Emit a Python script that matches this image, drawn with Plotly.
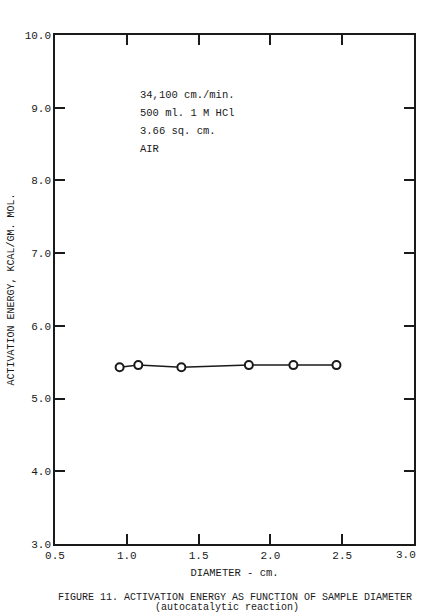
import plotly.graph_objects as go

diameter = [0.95, 1.08, 1.38, 1.85, 2.16, 2.46]
activation_energy = [5.43, 5.46, 5.43, 5.46, 5.46, 5.46]
x_ticks = [0.5, 1.0, 1.5, 2.0, 2.5, 3.0]
x_tick_labels = ["0.5", "1.0", "1.5", "2.0", "2.5", "3.0"]
y_ticks = [3, 4, 5, 6, 7, 8, 9, 10]
y_tick_labels = ["3.0", "4.0", "5.0", "6.0", "7.0", "8.0", "9.0", "10.0"]
notes = ["34,100 cm./min.", "500 ml. 1 M HCl", "3.66 sq. cm.", "AIR"]

FONT = "Liberation Mono"
INK = "#1a1a1a"

fig = go.Figure()
fig.add_trace(go.Scatter(
    x=diameter, y=activation_energy, mode="lines+markers",
    line=dict(color=INK, width=1.5),
    marker=dict(symbol="circle", size=8, color="white", line=dict(width=2, color=INK)),
    showlegend=False, cliponaxis=False,
))

# mirrored inside ticks on top and right
fig.add_trace(go.Scatter(x=[None], y=[None], xaxis="x2", yaxis="y2", showlegend=False))

fig.update_layout(
    width=421, height=612,
    margin=dict(l=55, r=5, t=35, b=68),
    paper_bgcolor="white", plot_bgcolor="white",
    font=dict(family=FONT, color=INK, size=11),
    xaxis=dict(range=[0.5, 3.0], tickvals=x_ticks[:-1], ticktext=x_tick_labels[:-1],
               ticks="inside", ticklen=10, tickwidth=1.5, tickcolor=INK,
               showline=True, linecolor=INK, linewidth=1.5, mirror=True,
               showgrid=False, zeroline=False,
               title=dict(text="DIAMETER - cm.", font=dict(size=10.5), standoff=8),
               tickfont=dict(size=11)),
    yaxis=dict(range=[3.0, 10.0], tickvals=y_ticks, ticktext=y_tick_labels,
               ticks="inside", ticklen=10, tickwidth=1.5, tickcolor=INK,
               showline=True, linecolor=INK, linewidth=1.5, mirror=True,
               showgrid=False, zeroline=False,
               title=dict(text="ACTIVATION ENERGY, KCAL/GM. MOL.", font=dict(size=10), standoff=8),
               tickfont=dict(size=11)),
    xaxis2=dict(overlaying="x", side="top", range=[0.5, 3.0], tickvals=x_ticks[1:-1],
                ticks="inside", ticklen=10, tickwidth=1.5, tickcolor=INK,
                showticklabels=False, showgrid=False, zeroline=False, showline=False),
    yaxis2=dict(overlaying="y", side="right", range=[3.0, 10.0], tickvals=y_ticks[1:-1],
                ticks="inside", ticklen=10, tickwidth=1.5, tickcolor=INK,
                showticklabels=False, showgrid=False, zeroline=False, showline=False),
)

# last x tick label, kept inside the page edge
fig.add_annotation(x=x_ticks[-1], y=0, xref="x", yref="paper", yshift=-11, xshift=4,
                   text=x_tick_labels[-1], showarrow=False, xanchor="right",
                   yanchor="middle", font=dict(family=FONT, size=11, color=INK))

for i, t in enumerate(notes):
    fig.add_annotation(x=1.08, y=9.18 - i * 0.25, xref="x", yref="y", text=t,
                       showarrow=False, xanchor="left", yanchor="middle",
                       font=dict(family=FONT, size=10.5, color=INK))

fig.add_annotation(x=0.5, y=-0.106, xref="paper", yref="paper",
                   text="FIGURE 11. ACTIVATION ENERGY AS FUNCTION OF SAMPLE DIAMETER",
                   showarrow=False, xanchor="center", yanchor="middle",
                   font=dict(family=FONT, size=10, color=INK))
fig.add_annotation(x=0.48, y=-0.125, xref="paper", yref="paper",
                   text="(autocatalytic reaction)",
                   showarrow=False, xanchor="center", yanchor="middle",
                   font=dict(family=FONT, size=10, color=INK))

fig.write_html("out.html")
